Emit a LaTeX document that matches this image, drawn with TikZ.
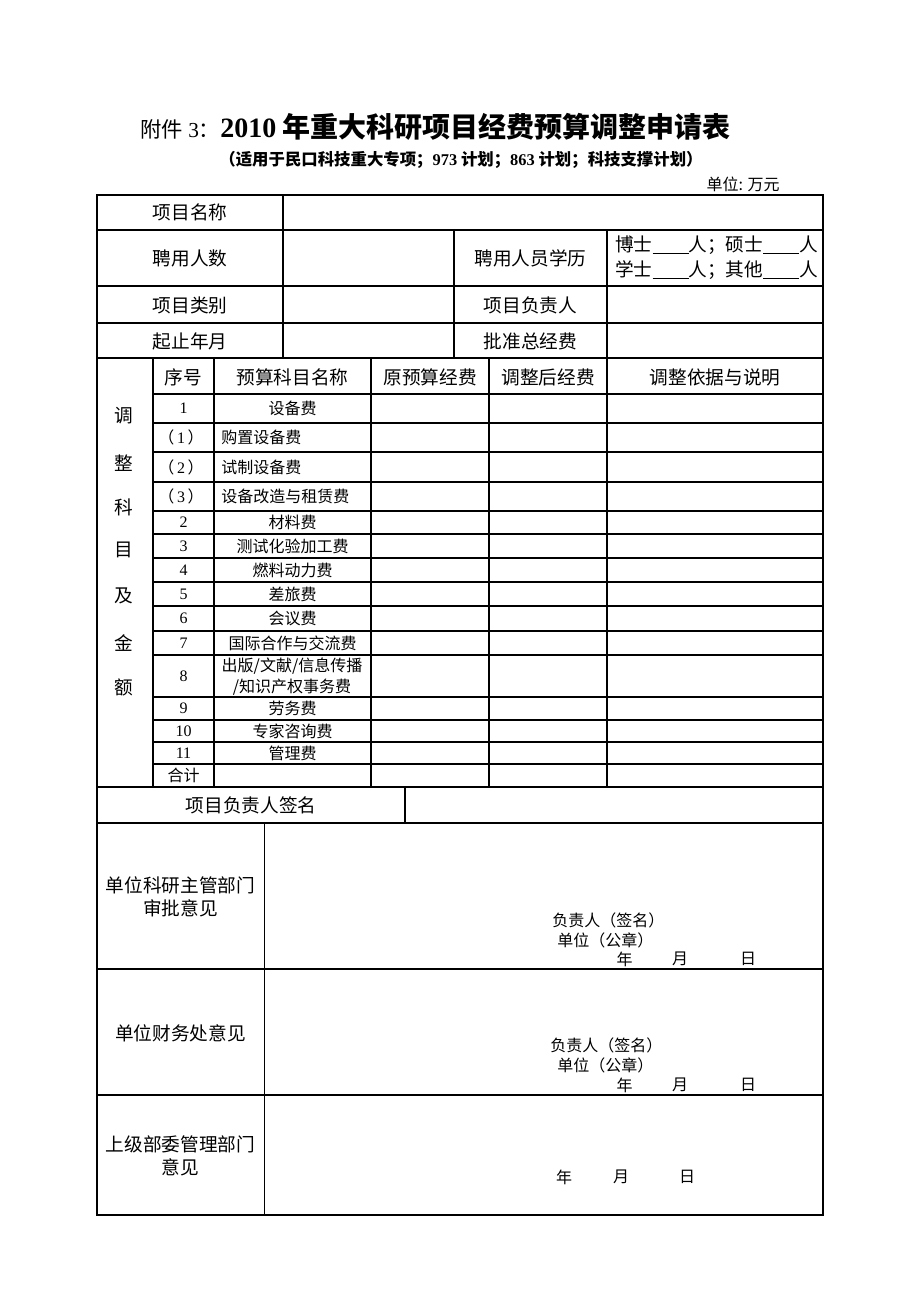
\documentclass[tikz,border=0pt]{standalone}
\usepackage{fontspec}
\setmainfont{Noto Sans CJK SC}
\newfontfamily\tnr{Liberation Serif}
\usetikzlibrary{positioning}
\newcommand{\blank}{\rule[-1.5pt]{27pt}{0.6pt}}

\begin{document}
\begin{tikzpicture}[x=0.75pt,y=-0.75pt,
  lbl/.style={inner sep=0pt, font=\fontsize{14pt}{17.5pt}\selectfont},
  itm/.style={inner sep=0pt, font=\fontsize{12pt}{15.5pt}\selectfont},
  grid/.style={line width=0.8pt}]
\useasboundingbox (0,0) rectangle (920,1302);

\node[anchor=base west, inner sep=0pt] (title) at (140,138)
  {\fontsize{16pt}{18pt}\selectfont 附件{\tnr\ 3}：\fontsize{21pt}{25pt}\selectfont\bfseries{\tnr 2010} 年重大科研项目经费预算调整申请表};
\node[inner sep=0pt, font=\fontsize{12.3pt}{14pt}\selectfont\bfseries] (subtitle) at (461,160)
  {（适用于民口科技重大专项；{\tnr 973} 计划；{\tnr 863} 计划；科技支撑计划）};
\node[itm, anchor=east] (unit) at (780,184) {单位: 万元};

\draw[grid] (97,195) rectangle (823,1215);
\foreach \yy in {230,286,323,358,787,823,969,1095}
  \draw[grid] (97,\yy) -- (823,\yy);
\foreach \yy in {394,423,452,482,511,534,558,582,606,631,655,697,720,742,764}
  \draw[grid] (153,\yy) -- (823,\yy);
\draw[grid] (283,195) -- (283,358);
\draw[grid] (454,230) -- (454,358);
\draw[grid] (607,230) -- (607,787);
\foreach \xx in {153,214,371,489}
  \draw[grid] (\xx,358) -- (\xx,787);
\draw[grid] (405,787) -- (405,823);
\draw[grid] (264.5,823) -- (264.5,1215);

\node[lbl] (xmmc) at (190,212) {项目名称};
\node[lbl] (pyrs) at (190,258) {聘用人数};
\node[lbl] (pyxl) at (530.5,258) {聘用人员学历};
\node[lbl, anchor=west] (xl1) at (615,245) {博士\blank 人；硕士\blank 人};
\node[lbl, anchor=west] (xl2) at (615,270) {学士\blank 人；其他\blank 人};
\node[lbl] (xmlb) at (190,305) {项目类别};
\node[lbl] (xmfz) at (530.5,305) {项目负责人};
\node[lbl] (qzny) at (190,341) {起止年月};
\node[lbl] (pzzj) at (530.5,341) {批准总经费};

\node[lbl] (hxh) at (183.5,377) {序号};
\node[lbl] (hmc) at (292.5,377) {预算科目名称};
\node[lbl] (hyy) at (430,377) {原预算经费};
\node[lbl] (htz) at (548,377) {调整后经费};
\node[lbl] (hsm) at (715,377) {调整依据与说明};

\foreach \yy/\ch [count=\i] in {416/调,463/整,507/科,550/目,596/及,643/金,687/额}
  \node[lbl] (side\i) at (124,\yy) {\ch};

\foreach \yy/\nn/\tx [count=\i] in {408.5/1/设备费, 522.5/2/材料费, 546/3/测试化验加工费,
    570/4/燃料动力费, 594/5/差旅费, 618.5/6/会议费, 643/7/国际合作与交流费,
    708.5/9/劳务费, 731/10/专家咨询费, 753/11/管理费} {
  \node[itm] (no\i) at (183.5,\yy) {\tnr\nn};
  \node[itm] (it\i) at (292.5,\yy) {\tx};
}
\foreach \yy/\nn/\tx [count=\i] in {437.5/1/购置设备费, 467/2/试制设备费, 496.5/3/设备改造与租赁费} {
  \node[itm] (sub\i) at (181,\yy) {（\,{\tnr\nn}\,）};
  \node[itm, anchor=west] (sit\i) at (221,\yy) {\tx};
}
\node[itm] (no8) at (183.5,676) {\tnr 8};
\node[itm, align=center, font=\fontsize{12pt}{15.75pt}\selectfont] (it8) at (292,676.5) {出版/文献/信息传播\\/知识产权事务费};
\node[itm] (hj) at (183.5,775.5) {合计};

\node[lbl] (fzqm) at (251,805) {项目负责人签名};

\node[lbl, align=center] (op1) at (180.5,896.5) {单位科研主管部门\\审批意见};
\node[itm, anchor=west] (qm1) at (552,920) {负责人（签名）};
\node[itm, anchor=west] (gz1) at (557,940) {单位（公章）};
\node[itm] (y1) at (624.5,959) {年};
\node[itm] (m1) at (680,959) {月};
\node[itm] (d1) at (748,959) {日};

\node[lbl] (op2) at (180.5,1033) {单位财务处意见};
\node[itm, anchor=west] (qm2) at (550,1045) {负责人（签名）};
\node[itm, anchor=west] (gz2) at (557,1065) {单位（公章）};
\node[itm] (y2) at (624.5,1085) {年};
\node[itm] (m2) at (680,1085) {月};
\node[itm] (d2) at (748,1085) {日};

\node[lbl, align=center] (op3) at (180.5,1156) {上级部委管理部门\\意见};
\node[itm] (y3) at (564,1177) {年};
\node[itm] (m3) at (621,1177) {月};
\node[itm] (d3) at (687,1177) {日};
\end{tikzpicture}
\end{document}
